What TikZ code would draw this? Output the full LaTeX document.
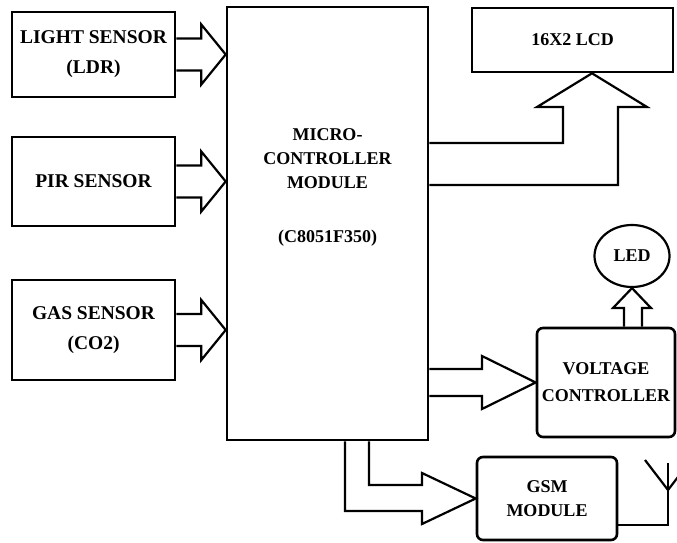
\documentclass[tikz,border=0pt]{standalone}
\usepackage{fontspec}
\setmainfont{Liberation Serif}
\usepackage{tikz}
\usetikzlibrary{calc,shapes.geometric}

\begin{document}
\begin{tikzpicture}[x=1pt, y=-1pt,
  every node/.style={font=\fontsize{18}{24}\selectfont\bfseries, align=center, inner sep=0pt},
  blk/.style={draw, line width=2.6pt},
  rblk/.style={draw, line width=2.6pt, rounded corners=6pt},
  fat/.style={draw, line width=2.2pt, line join=miter}]
  \useasboundingbox (0,0) rectangle (677,543);
  % sensors
  \node[blk, minimum width=163, minimum height=85, font=\fontsize{19.5}{30}\selectfont\bfseries] (ls) at (93.5,54.5) {LIGHT SENSOR\\(LDR)};
  \node[blk, minimum width=163, minimum height=89, font=\fontsize{19.5}{30}\selectfont\bfseries] (pir) at (93.5,181.5) {PIR SENSOR};
  \node[blk, minimum width=163, minimum height=100, font=\fontsize{19.5}{30}\selectfont\bfseries] (gas) at (93.5,330) {GAS SENSOR\\(CO2)};
  % controller
  \node[blk, minimum width=201, minimum height=433, label={[yshift=36pt, align=center]center:MICRO-\\CONTROLLER\\MODULE\\[30pt](C8051F350)}] (mcu) at (327.5,223.5) {};
  % outputs
  \node[blk, minimum width=201, minimum height=64] (lcd) at (572.5,40) {16X2 LCD};
  \node[draw, ellipse, line width=2.2pt, minimum width=75, minimum height=62] (led) at (632,256) {LED};
  \node[rblk, minimum width=138, minimum height=109, font=\fontsize{18}{27}\selectfont\bfseries] (vc) at (606,382.5) {VOLTAGE\\CONTROLLER};
  \node[rblk, minimum width=140, minimum height=83] (gsm) at (547,498.5) {GSM\\MODULE};
  % fat arrows into the controller
  \foreach \s in {ls,pir,gas}
    \draw[fat] ($(\s.east)+(0,-16)$) -- ++(25,0) -- ++(0,-14) -- (mcu.west |- \s.east)
      -- ($(\s.east)+(25,30)$) -- ++(0,-14) -- ($(\s.east)+(0,16)$);
  % to the display
  \draw[fat] (mcu.east |- 0,143) -- (563,143) -- (563,107) -- (537,107) -- (lcd.south -| 592,0)
    -- (647,107) -- (618,107) -- (618,185) -- (mcu.east |- 0,185);
  % to the voltage controller and the led
  \draw[fat] (mcu.east |- 0,369) -- (482,369) -- (482,356) -- (vc.west)
    -- (482,409) -- (482,396) -- (mcu.east |- 0,396);
  \draw[fat] (vc.north -| 624,0) -- (624,308) -- (613,308) -- (led.south)
    -- (651,308) -- (642,308) -- (vc.north -| 642,0);
  % to the gsm module
  \draw[fat] (mcu.south -| 345,0) -- (345,511) -- (422,511) -- (422,524) -- (gsm.west)
    -- (422,473) -- (422,485) -- (369,485) -- (mcu.south -| 369,0);
  % antenna
  \coordinate (ant) at (668,490);
  \draw[fat] (gsm.east |- 0,525) -| (ant) -- ++(0,-27);
  \draw[fat] ($(ant)+(-23,-30)$) -- (ant) -- ++(23,-30);
\end{tikzpicture}
\end{document}
